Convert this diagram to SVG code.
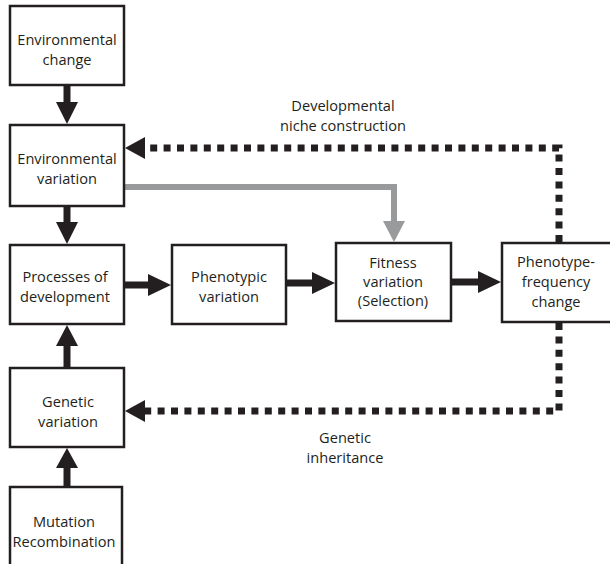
<svg xmlns="http://www.w3.org/2000/svg" width="610" height="564" viewBox="0 0 610 564">
<defs>
<style>
.box{fill:#fff;stroke:#231f20;stroke-width:2.5}
.t{font-family:"Open Sans","Noto Sans","Liberation Sans",sans-serif;font-size:14.6px;fill:#231f20;text-anchor:middle}
.shaft{stroke:#231f20;stroke-width:7;fill:none}
.head{fill:#231f20}
.dot{stroke:#231f20;stroke-width:7;fill:none;stroke-dasharray:7 6.4}
.grey{stroke:#999a9c;stroke-width:6;fill:none}
</style>
</defs>
<rect width="610" height="564" fill="#fff"/>
<g id="connectors">
<line class="shaft" x1="67" y1="86" x2="67" y2="104"/>
<polygon class="head" points="56,102 78,102 67,124"/>
<line class="shaft" x1="67" y1="207" x2="67" y2="224"/>
<polygon class="head" points="56,222 78,222 67,244"/>
<line class="shaft" x1="125" y1="285" x2="150" y2="285"/>
<polygon class="head" points="148,274 148,296 171,285"/>
<line class="shaft" x1="287" y1="283" x2="314" y2="283"/>
<polygon class="head" points="312,272 312,294 335,283"/>
<line class="shaft" x1="452" y1="282" x2="480" y2="282"/>
<polygon class="head" points="478,271 478,293 501,282"/>
<line class="shaft" x1="67" y1="367" x2="67" y2="344"/>
<polygon class="head" points="56,346 78,346 67,325"/>
<line class="shaft" x1="67" y1="486" x2="67" y2="466"/>
<polygon class="head" points="56,468 78,468 67,448"/>
<polyline class="grey" points="125,187 394,187 394,224"/>
<polygon points="383,221 405,221 394,242" fill="#999a9c"/>
<polyline class="dot" points="559,242 559,148 143,148"/>
<polygon class="head" points="145,137 145,159 125,148"/>
<polyline class="dot" points="559,323 559,411 143,411"/>
<polygon class="head" points="145,400 145,422 125,411"/>
</g>
<g id="env-change">
<rect class="box" x="10" y="6" width="114" height="79"/>
<text class="t" x="67" y="45">Environmental</text>
<text class="t" x="67" y="65">change</text>
</g>
<g id="env-variation">
<rect class="box" x="10" y="125" width="114" height="81"/>
<text class="t" x="67" y="164">Environmental</text>
<text class="t" x="67" y="184">variation</text>
</g>
<g id="processes">
<rect class="box" x="10" y="245" width="114" height="79"/>
<text class="t" x="65" y="282">Processes of</text>
<text class="t" x="65" y="302">development</text>
</g>
<g id="phenotypic">
<rect class="box" x="172" y="245" width="114" height="79"/>
<text class="t" x="229" y="282">Phenotypic</text>
<text class="t" x="229" y="302">variation</text>
</g>
<g id="fitness">
<rect class="box" x="336" y="243" width="115" height="78"/>
<text class="t" x="393" y="268">Fitness</text>
<text class="t" x="393" y="287">variation</text>
<text class="t" x="393" y="306">(Selection)</text>
</g>
<g id="phenotype-frequency">
<rect class="box" x="502" y="243" width="116" height="79"/>
<text class="t" x="556" y="267">Phenotype-</text>
<text class="t" x="556" y="287">frequency</text>
<text class="t" x="556" y="307">change</text>
</g>
<g id="genetic-variation">
<rect class="box" x="10" y="368" width="114" height="79"/>
<text class="t" x="68" y="407">Genetic</text>
<text class="t" x="68" y="427">variation</text>
</g>
<g id="mutation">
<rect class="box" x="10" y="487" width="112" height="90"/>
<text class="t" x="64" y="527">Mutation</text>
<text class="t" x="64" y="547">Recombination</text>
</g>
<g id="labels">
<text class="t" x="343" y="111">Developmental</text>
<text class="t" x="343" y="131">niche construction</text>
<text class="t" x="345" y="443">Genetic</text>
<text class="t" x="345" y="463">inheritance</text>
</g>
</svg>
